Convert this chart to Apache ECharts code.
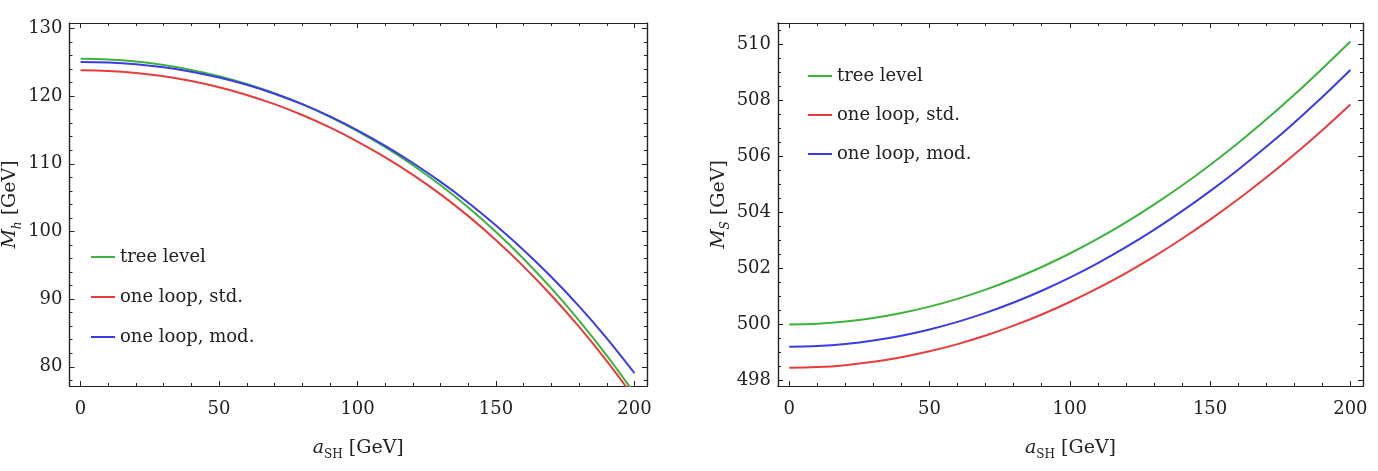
<!DOCTYPE html>
<html>
<head>
<meta charset="utf-8">
<title>M_h / M_S vs a_SH</title>
<script src="https://cdn.jsdelivr.net/npm/echarts@6/dist/echarts.min.js"></script>
<style>
  html, body { margin: 0; padding: 0; background: #fff; }
  #chart { width: 1378px; height: 471px; }
</style>
</head>
<body>
<div id="chart"></div>
<script>
// a_SH (GeV)
const aSH = [0, 10, 20, 30, 40, 50, 60, 70, 80, 90, 100, 110, 120, 130, 140, 150, 160, 170, 180, 190, 200]

// 左图 M_h (GeV)
const mhTree = [125.5, 125.399, 125.095, 124.586, 123.87, 122.94, 121.791, 120.415, 118.804, 116.948, 114.834, 112.45, 109.782, 106.814, 103.53, 99.91, 95.935, 91.584, 86.834, 81.663, 76.044]
const mhStd = [123.8, 123.709, 123.415, 122.921, 122.22, 121.305, 120.171, 118.805, 117.204, 115.373, 113.284, 110.95, 108.362, 105.474, 102.26, 98.71, 94.805, 90.534, 85.884, 80.843, 75.344]
const mhMod = [125.05, 124.969, 124.705, 124.256, 123.61, 122.75, 121.671, 120.355, 118.804, 116.998, 114.934, 112.651, 110.112, 107.314, 104.25, 100.885, 97.235, 93.264, 88.934, 84.213, 79.044]

// 右图 M_S (GeV)
const msTree = [500.0, 500.025, 500.101, 500.228, 500.405, 500.633, 500.911, 501.24, 501.619, 502.049, 502.53, 503.061, 503.643, 504.276, 504.959, 505.693, 506.477, 507.312, 508.197, 509.133, 510.1]
const msStd = [498.45, 498.474, 498.544, 498.662, 498.826, 499.038, 499.296, 499.602, 499.954, 500.354, 500.8, 501.294, 501.834, 502.422, 503.056, 503.738, 504.466, 505.242, 506.064, 506.934, 507.85]
const msMod = [499.2, 499.225, 499.299, 499.422, 499.595, 499.818, 500.089, 500.41, 500.781, 501.201, 501.67, 502.189, 502.757, 503.374, 504.041, 504.758, 505.523, 506.338, 507.203, 508.117, 509.08]

// 刻度
const xTicks = [0, 50, 100, 150, 200]
const mhTicks = [80, 90, 100, 110, 120, 130]
const msTicks = [498, 500, 502, 504, 506, 508, 510]

const names = ['tree level', 'one loop, std.', 'one loop, mod.']
const colors = ['#3cb43c', '#e83c3c', '#3c3ce6']

const FONT = 'DejaVu Serif'
const INK = '#222'

function steps(from, to, step) {
  const out = []
  for (let v = from; v <= to + 1e-9; v += step) out.push(+v.toFixed(3))
  return out
}

// 坐标轴名称（带下标）
const nameRich = {
  i: {fontFamily: FONT, fontStyle: 'italic', fontSize: 19, color: INK, lineHeight: 26, verticalAlign: 'middle'},
  n: {fontFamily: FONT, fontSize: 19, color: INK, lineHeight: 26, verticalAlign: 'middle'},
  s: {fontFamily: FONT, fontSize: 12, color: INK, lineHeight: 12, verticalAlign: 'bottom'},
  si: {fontFamily: FONT, fontStyle: 'italic', fontSize: 12, color: INK, lineHeight: 12, verticalAlign: 'bottom'}
}

// 边框上的一条轴：主刻度或次刻度
function frameAxis(gridIndex, position, min, max, ticks, length, label) {
  const axis = {
    type: 'value',
    gridIndex: gridIndex,
    position: position,
    min: min,
    max: max,
    axisLine: {show: true, onZero: false, lineStyle: {color: INK, width: 1.2}},
    axisTick: {show: true, inside: true, length: length, customValues: ticks, lineStyle: {color: INK, width: 1}},
    axisLabel: {show: false},
    splitLine: {show: false}
  }
  if (label) {
    axis.axisLabel = {
      show: true,
      customValues: label.values,
      margin: label.margin,
      fontFamily: FONT,
      fontSize: 18,
      color: INK
    }
    axis.name = label.name
    axis.nameLocation = 'middle'
    axis.nameGap = label.nameGap
    axis.nameRotate = label.rotate
    axis.nameTextStyle = {rich: nameRich}
  }
  return axis
}

function panelAxes(gridIndex, xr, yr, yTicks, yMinor, yName) {
  const xMinor = steps(0, 200, 10)
  const xs = [
    frameAxis(gridIndex, 'bottom', xr[0], xr[1], xTicks, 5,
      {values: xTicks, margin: 14, name: '{i|a}{s|SH}{n| [GeV]}', nameGap: 49, rotate: 0}),
    frameAxis(gridIndex, 'bottom', xr[0], xr[1], xMinor, 3),
    frameAxis(gridIndex, 'top', xr[0], xr[1], xTicks, 5),
    frameAxis(gridIndex, 'top', xr[0], xr[1], xMinor, 3)
  ]
  const ys = [
    frameAxis(gridIndex, 'left', yr[0], yr[1], yTicks, 5,
      {values: yTicks, margin: 7, name: yName, nameGap: 46, rotate: 90}),
    frameAxis(gridIndex, 'left', yr[0], yr[1], yMinor, 3),
    frameAxis(gridIndex, 'right', yr[0], yr[1], yTicks, 5),
    frameAxis(gridIndex, 'right', yr[0], yr[1], yMinor, 3)
  ]
  return {xs: xs, ys: ys}
}

const left = panelAxes(0, [-4, 204.5], [77.16, 130.8], mhTicks, steps(78, 130, 2), '{i|M}{si|h}{n| [GeV]}')
const right = panelAxes(1, [-4, 204.5], [497.8, 510.76], msTicks, steps(498, 510.5, 0.5), '{i|M}{si|S}{n| [GeV]}')

function curve(name, color, ys, axisIndex) {
  return {
    name: name,
    type: 'line',
    xAxisIndex: axisIndex,
    yAxisIndex: axisIndex,
    data: aSH.map(function (a, i) { return [a, ys[i]] }),
    smooth: 0.4,
    symbol: 'none',
    clip: true,
    lineStyle: {color: color, width: 2},
    itemStyle: {color: color}
  }
}

function legendAt(x, y, gap) {
  return {
    left: x,
    top: y,
    orient: 'vertical',
    padding: 0,
    itemGap: gap,
    itemWidth: 24,
    itemHeight: 2,
    icon: 'rect',
    selectedMode: false,
    data: names,
    textStyle: {fontFamily: FONT, fontSize: 18, color: INK, lineHeight: 20}
  }
}

const myChart = echarts.init(document.getElementById('chart'))
const option = {
  animation: false,
  backgroundColor: '#fff',
  grid: [
    {left: 61, top: 23, width: 586, height: 363},
    {left: 778, top: 23, width: 585, height: 363}
  ],
  xAxis: left.xs.concat(right.xs),
  yAxis: left.ys.concat(right.ys),
  legend: [legendAt(91, 247, 20), legendAt(808, 66, 19)],
  series: [
    curve(names[0], colors[0], mhTree, 0),
    curve(names[1], colors[1], mhStd, 0),
    curve(names[2], colors[2], mhMod, 0),
    curve(names[0], colors[0], msTree, 4),
    curve(names[1], colors[1], msStd, 4),
    curve(names[2], colors[2], msMod, 4)
  ]
}
myChart.setOption(option)
</script>
</body>
</html>
